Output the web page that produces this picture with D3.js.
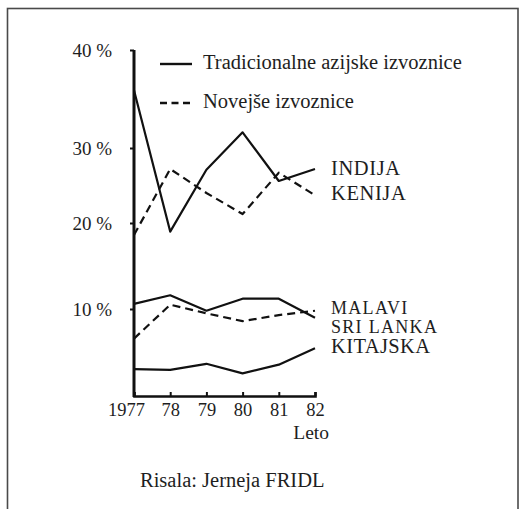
<!DOCTYPE html>
<html><head><meta charset="utf-8">
<script src="https://cdn.jsdelivr.net/npm/d3@7"></script>
<style>
body{margin:0;background:#fff}
svg{display:block}
text{font-family:"Liberation Serif","Times New Roman","DejaVu Serif",serif;fill:#1e1e1e}
</style>
</head><body><svg id="c" width="523" height="509"></svg>
<script>
// ---- data ----
const years = ["1977","78","79","80","81","82"];
const yTickValues = [10,20,30,40];
const indija   = [35.9,19.0,27.1,31.6,25.6,27.2];
const kenija   = [18.6,27.2,24.0,21.2,26.7,23.7];
const sriLanka = [10.6,11.6,9.8,11.2,11.2,9.0];
const malavi   = [6.6,10.5,9.5,8.6,9.3,9.8];
const kitajska = [3.1,3.0,3.7,2.6,3.6,5.5];
const seriesNames = ["INDIJA","KENIJA","MALAVI","SRI LANKA","KITAJSKA"];
const legendLabels = ["Tradicionalne azijske izvoznice","Novejše izvoznice"];
const axisTitle = "Leto";
const credit = "Risala: Jerneja FRIDL";

// ---- layout ----
const serif = "Liberation Serif, Times New Roman, serif";
const svg = d3.select("#c");
const x = d3.scalePoint().domain(years).range([134,315]);
// the hand-drawn original has uneven spacing between gridded percentages
const y = d3.scaleLinear().domain([0,10,20,30,40]).range([396,309,223,148,50]);

svg.append("rect").attr("x",7.5).attr("y",8.5).attr("width",510.5).attr("height",530)
  .attr("fill","none").attr("stroke","#4a4a4a").attr("stroke-width",1.6);

// y axis
const ya = svg.append("g").attr("transform","translate(134,0)")
  .call(d3.axisLeft(y).tickValues(yTickValues).tickSize(4).tickSizeOuter(0).tickPadding(18)
    .tickFormat(d=>d+" %"));
ya.select(".domain").remove();
ya.selectAll(".tick line").attr("stroke","#111").attr("stroke-width",2);
ya.selectAll(".tick text").attr("font-size",19).attr("font-family",serif).attr("fill","#1e1e1e");
svg.append("line").attr("x1",134).attr("x2",134).attr("y1",y(40)).attr("y2",y(0)+1)
  .attr("stroke","#111").attr("stroke-width",3);

// x axis
const xa = svg.append("g").attr("transform","translate(0,396)")
  .call(d3.axisBottom(x).tickSize(-4).tickSizeOuter(-4).tickPadding(7));
xa.select(".domain").attr("stroke","#111").attr("stroke-width",2.6);
xa.selectAll(".tick line").attr("stroke","#111").attr("stroke-width",2);
xa.selectAll(".tick text").attr("font-size",18.5).attr("font-family",serif).attr("fill","#1e1e1e")
  .attr("dx",(d,i)=>i===0?-8:0);

svg.append("text").attr("x",329).attr("y",438.5).attr("text-anchor","end")
  .attr("font-size",19.5).text(axisTitle);
svg.append("text").attr("x",140).attr("y",487).attr("font-size",20.5).text(credit);

// lines
const line = d3.line().x((d,i)=>x(years[i])).y(d=>y(d));
const series = [
  {name:seriesNames[0], values:indija,   dashed:false, dy:6,  fs:20.5, ls:0.6},
  {name:seriesNames[1], values:kenija,   dashed:true,  dy:5,  fs:20.5, ls:0.6},
  {name:seriesNames[2], values:malavi,   dashed:true,  dy:3,  fs:18,   ls:1.3},
  {name:seriesNames[3], values:sriLanka, dashed:false, dy:15, fs:18,   ls:1.3},
  {name:seriesNames[4], values:kitajska, dashed:false, dy:5,  fs:20.5, ls:0.4}
];
svg.selectAll("path.series").data(series).join("path").attr("class","series")
  .attr("d",d=>line(d.values)).attr("fill","none").attr("stroke","#111")
  .attr("stroke-width",2.2).attr("stroke-linejoin","round")
  .attr("stroke-dasharray",d=>d.dashed?"8,5":null);

svg.selectAll("text.lab").data(series).join("text").attr("class","lab")
  .attr("x",331).attr("y",d=>y(d.values[d.values.length-1])+d.dy)
  .attr("font-size",d=>d.fs).attr("letter-spacing",d=>d.ls).text(d=>d.name);

// legend
const lg = svg.append("g");
legendLabels.forEach((t,i)=>{
  const ly = [64,103][i];
  lg.append("line").attr("x1",160).attr("x2",192).attr("y1",ly).attr("y2",ly)
    .attr("stroke","#111").attr("stroke-width",2.4).attr("stroke-dasharray",i?"7,4.5":null);
  lg.append("text").attr("x",203).attr("y",ly+4.5).attr("font-size",20.5).text(t);
});
</script>
</body></html>
